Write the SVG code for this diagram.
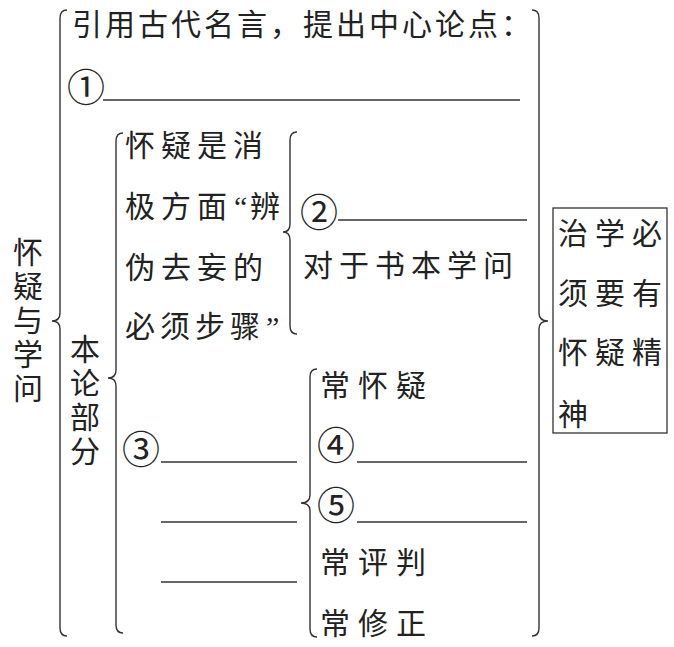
<svg xmlns="http://www.w3.org/2000/svg" width="674" height="647" viewBox="0 0 674 647">
<style>
.t{font-family:"Noto Sans CJK SC","Noto Sans",sans-serif;font-size:30px;fill:#222}
.v{writing-mode:vertical-rl;text-orientation:upright;letter-spacing:4px}
.c{font-family:"Noto Sans CJK SC","DejaVu Sans",sans-serif;font-size:38px;fill:#222;text-anchor:middle;dominant-baseline:central}
.q{font-family:"Liberation Serif",serif;letter-spacing:0}
.ln{stroke:#333;stroke-width:1.3;fill:none}
.br{stroke:#333;stroke-width:1.4;fill:none}
</style>
<rect width="674" height="647" fill="#fff"/>
<g id="connectors">
<path class="br" d="M67 10 Q60 10 60 18 L60 313 Q60 321 52 321 Q60 321 60 329 L60 628 Q60 636 67 636"/>
<path class="br" d="M123 133 Q116 133 116 141 L116 370 Q116 378 108 378 Q116 378 116 386 L116 625 Q116 633 123 633"/>
<path class="br" d="M297 132 Q290 132 290 140 L290 224 Q290 232 283 232 Q290 232 290 240 L290 326 Q290 334 297 334"/>
<path class="br" d="M317 369 Q310 369 310 377 L310 495 Q310 503 301 503 Q310 503 310 511 L310 629 Q310 637 317 637"/>
<path class="br" d="M532 10 Q539 10 539 18 L539 313 Q539 321 548 321 Q539 321 539 329 L539 628 Q539 636 532 636"/>
</g>
<g id="title">
<text class="t v" x="28" y="237">怀疑与学问</text>
</g>
<g id="intro">
<text class="t" x="72" y="35" letter-spacing="3">引用古代名言，提出中心论点：</text>
<text class="c" x="86" y="84">①</text>
<line class="ln" x1="103" y1="100" x2="520" y2="100"/>
</g>
<g id="body">
<text class="t v" x="85" y="334">本论部分</text>
</g>
<g id="negative">
<text class="t" x="125" y="156" letter-spacing="6">怀疑是消</text>
<text class="t" x="125" y="217" letter-spacing="6">极方面<tspan class="q" x="234" font-size="30">“</tspan><tspan x="250">辨</tspan></text>
<text class="t" x="125" y="278" letter-spacing="6">伪去妄的</text>
<text class="t" x="125" y="337" letter-spacing="5">必须步骤<tspan class="q" x="266" font-size="30">”</tspan></text>
</g>
<g id="books">
<text class="c" x="319" y="209">②</text>
<line class="ln" x1="338" y1="220" x2="527" y2="220"/>
<text class="t" x="303" y="276" letter-spacing="6">对于书本学问</text>
</g>
<g id="positive">
<text class="c" x="141" y="446">③</text>
<line class="ln" x1="161" y1="462" x2="297" y2="462"/>
<line class="ln" x1="161" y1="522" x2="297" y2="522"/>
<line class="ln" x1="161" y1="582" x2="297" y2="582"/>
</g>
<g id="steps">
<text class="t" x="320" y="396" letter-spacing="8">常怀疑</text>
<text class="c" x="336" y="442">④</text>
<line class="ln" x1="357" y1="462" x2="527" y2="462"/>
<text class="c" x="336" y="502">⑤</text>
<line class="ln" x1="357" y1="522" x2="527" y2="522"/>
<text class="t" x="320" y="573" letter-spacing="8">常评判</text>
<text class="t" x="320" y="634" letter-spacing="8">常修正</text>
</g>
<g id="conclusion">
<rect x="553" y="208" width="114" height="225" fill="none" stroke="#333" stroke-width="1.3"/>
<text class="t" x="558" y="244" letter-spacing="7">治学必</text>
<text class="t" x="558" y="304" letter-spacing="7">须要有</text>
<text class="t" x="558" y="363" letter-spacing="7">怀疑精</text>
<text class="t" x="558" y="425" letter-spacing="7">神</text>
</g>
</svg>
